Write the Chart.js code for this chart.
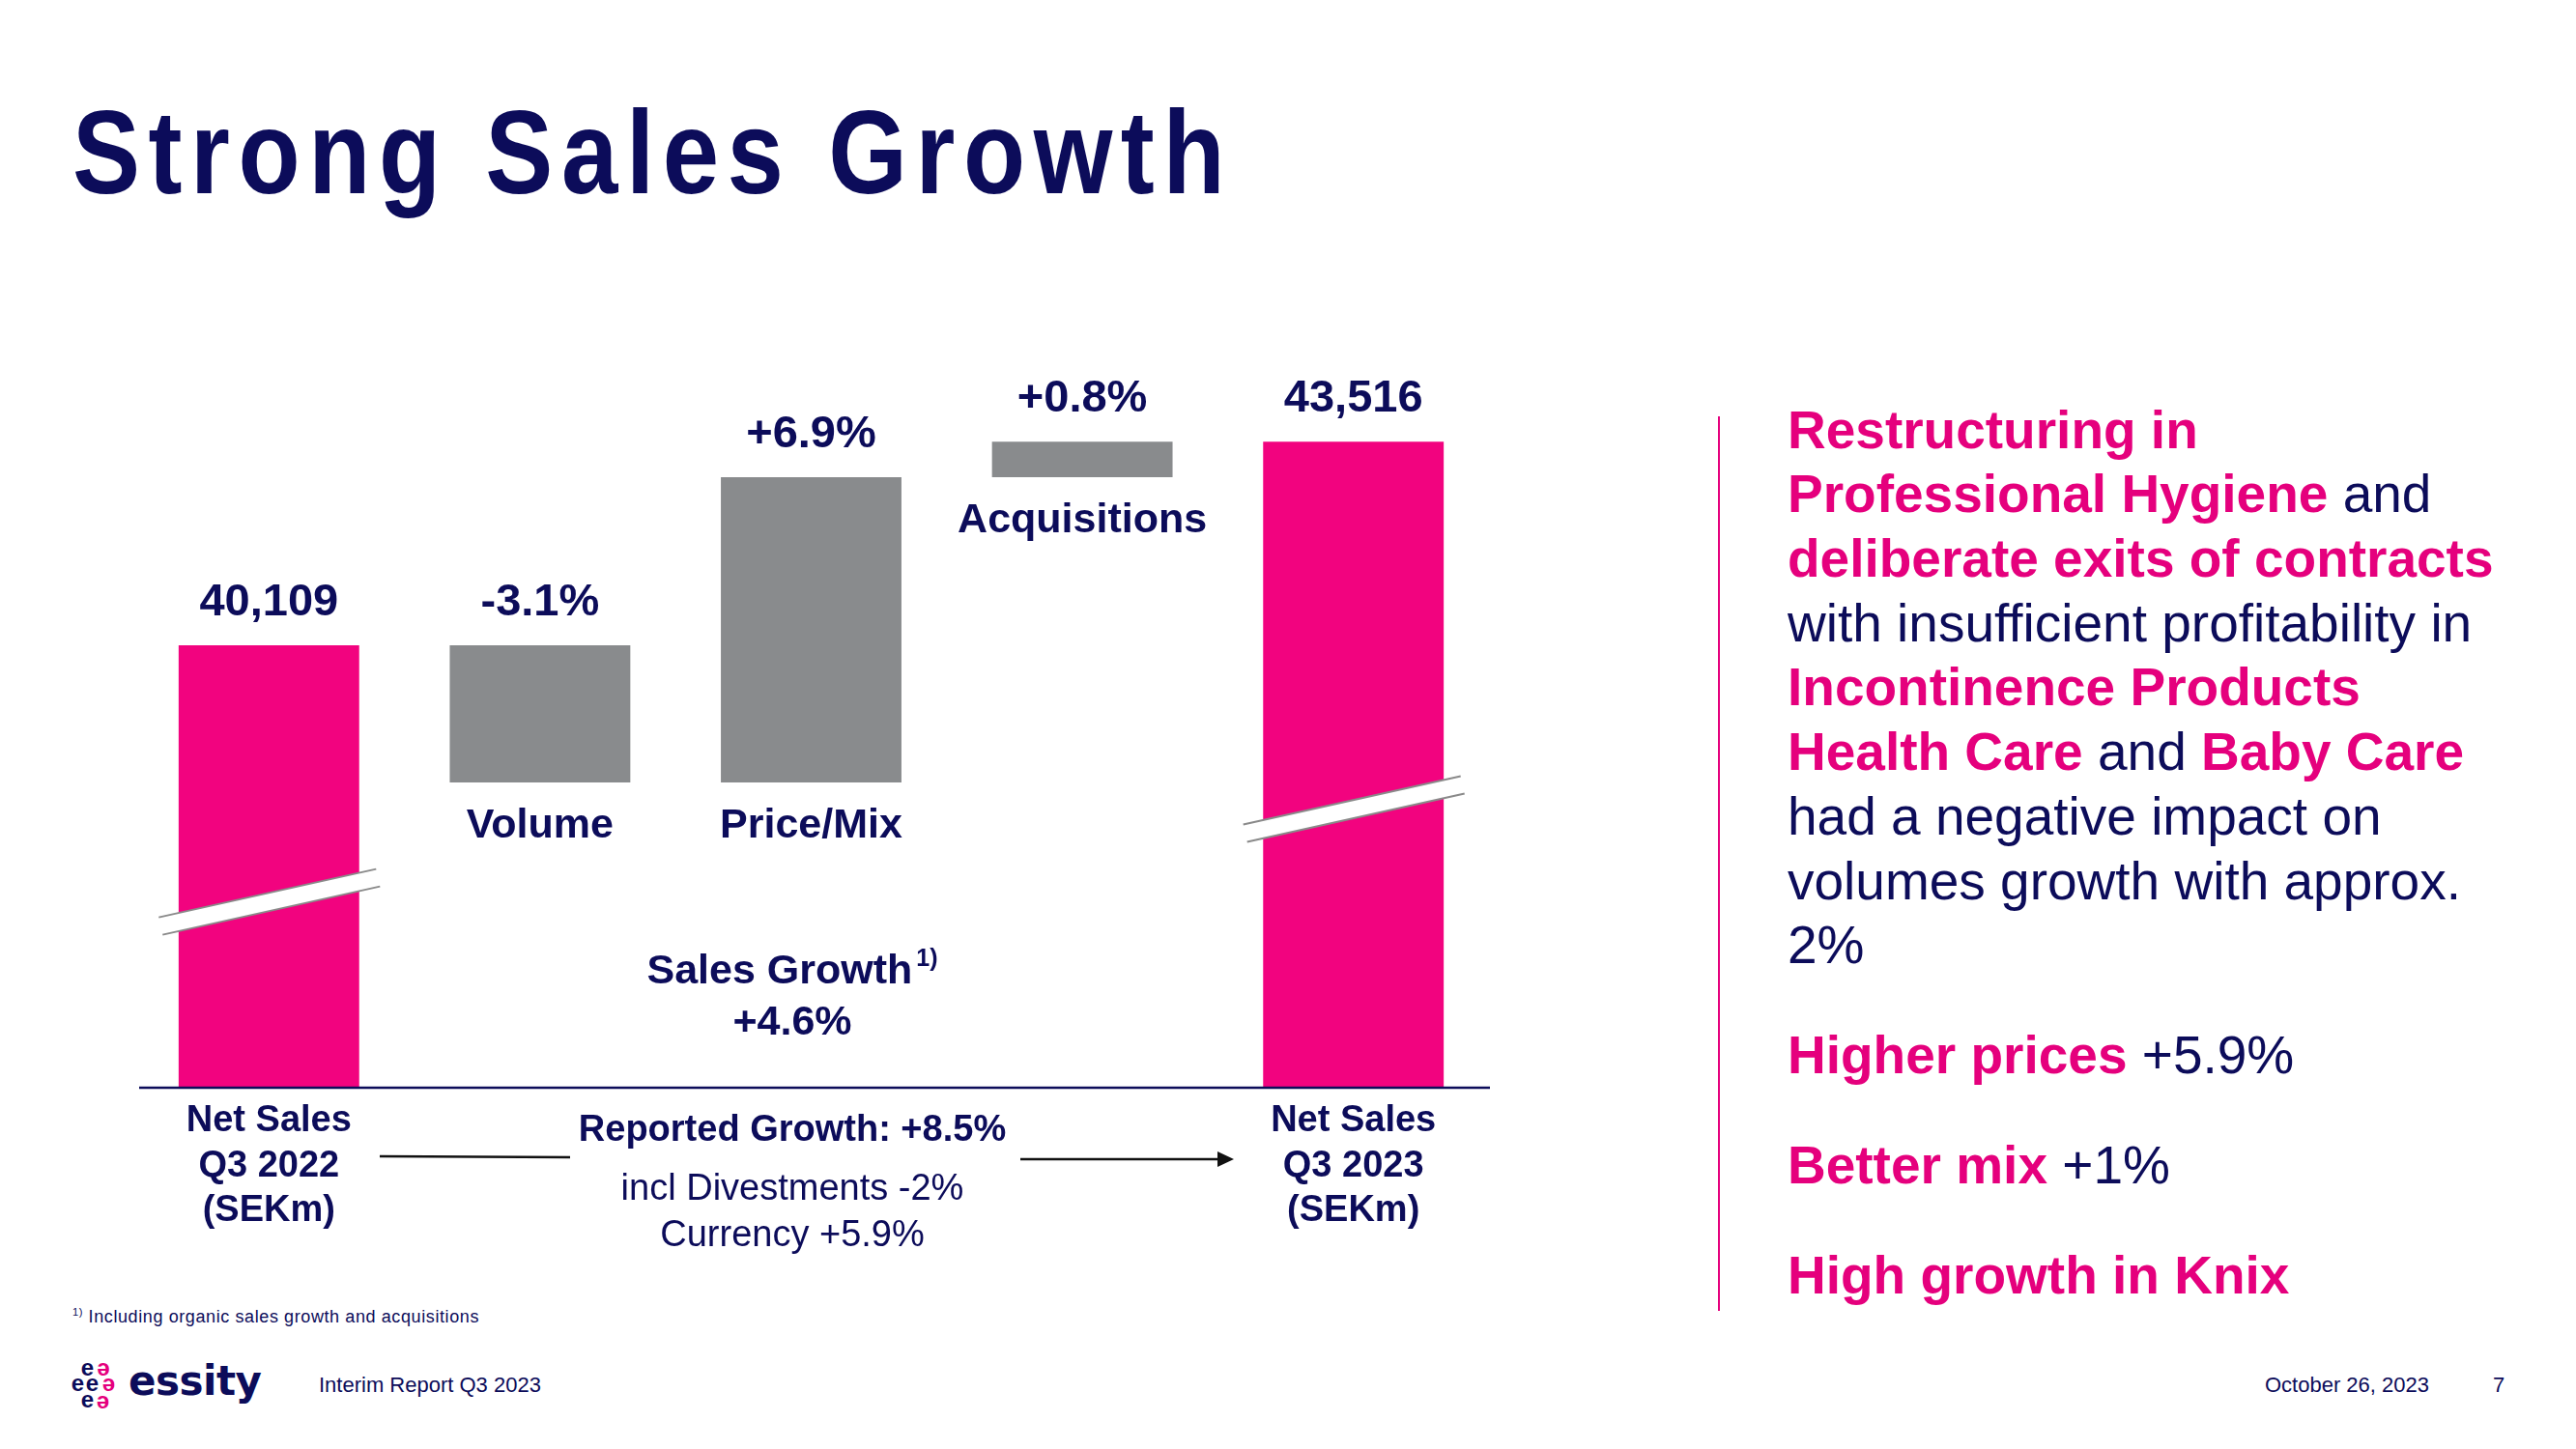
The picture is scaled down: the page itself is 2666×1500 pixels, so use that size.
<!DOCTYPE html>
<html>
<head>
<meta charset="utf-8">
<script src="https://cdn.jsdelivr.net/npm/chart.js@4.4.0/dist/chart.umd.min.js"></script>
<style>
  body { margin: 0; width: 2666px; height: 1500px; background: #fff; overflow: hidden; position: relative; }
  .t { position: absolute; white-space: nowrap; line-height: 0; font-family: "Liberation Sans", Arial, sans-serif; color: #0c0c5a; }
  .para { position: absolute; white-space: nowrap; font-family: "Liberation Sans", Arial, sans-serif; color: #0c0c5a; font-size: 55px; line-height: 66.7px; }
  .p { color: #e5007d; font-weight: bold; }
  #chart { position: absolute; left: 0; top: 0; }
</style>
</head>
<body>
<div class="t" style="left:75px; top:158px; font-size:122px; font-weight:bold; letter-spacing:10px; transform:scaleX(0.86); transform-origin:0 0;">Strong Sales Growth</div>

<canvas id="chart" width="1600" height="1340"></canvas>

<div style="position:absolute; left:1778px; top:431px; width:2px; height:926px; background:#e5007d;"></div>
<div class="para" style="left:1850px; top:411.6px;">
<span class="p">Restructuring in</span><br>
<span class="p">Professional Hygiene</span> and<br>
<span class="p">deliberate exits of contracts</span><br>
with insufficient profitability in<br>
<span class="p">Incontinence Products</span><br>
<span class="p">Health Care</span> and <span class="p">Baby Care</span><br>
had a negative impact on<br>
volumes growth with approx.<br>
2%
</div>
<div class="t" style="left:1850px; top:1092px; font-size:55px;"><span class="p">Higher prices</span> +5.9%</div>
<div class="t" style="left:1850px; top:1206px; font-size:55px;"><span class="p">Better mix</span> +1%</div>
<div class="t" style="left:1850px; top:1320px; font-size:55px;"><span class="p">High growth in Knix</span></div>

<div class="t" style="left:75px; top:1362.8px; font-size:18px; letter-spacing:0.6px;"><span style="font-size:11px; position:relative; top:-7px;">1)</span> Including organic sales growth and acquisitions</div>

<svg style="position:absolute; left:0; top:1390px;" width="140" height="90">
  <g font-family="Liberation Sans, Arial, sans-serif" font-weight="bold" font-size="24" text-anchor="middle">
    <text x="90.5" y="33.7" fill="#0c0c5a">e</text>
    <text x="107" y="33.7" fill="#e5007d" transform="rotate(180 107 27.5)">e</text>
    <text x="80.5" y="49.7" fill="#0c0c5a">e</text>
    <text x="95.5" y="49.7" fill="#0c0c5a">e</text>
    <text x="112.5" y="49.7" fill="#e5007d" transform="rotate(180 112.5 43.5)">e</text>
    <text x="90.5" y="67.2" fill="#0c0c5a">e</text>
    <text x="106.5" y="67.2" fill="#e5007d" transform="rotate(180 106.5 61)">e</text>
  </g>
</svg>
<div class="t" style="left:133px; top:1430px; font-size:42px; font-weight:bold; font-family:'DejaVu Sans', sans-serif; letter-spacing:-0.5px;">essity</div>
<div class="t" style="left:330px; top:1434.4px; font-size:22px;">Interim Report Q3 2023</div>
<div class="t" style="left:2344px; top:1434.4px; font-size:22px;">October 26, 2023</div>
<div class="t" style="left:2580px; top:1434.4px; font-size:22px;">7</div>

<script>
// Bridge: net sales Q3 2022 -> Q3 2023
const categories = [
  ["Net Sales", "Q3 2022", "(SEKm)"],
  ["Volume"],
  ["Price/Mix"],
  ["Acquisitions"],
  ["Net Sales", "Q3 2023", "(SEKm)"],
];
const netSales = [40109, 43516];       // SEKm
const changes = [-3.1, 6.9, 0.8];       // % : volume, price/mix, acquisitions
const salesGrowth = 4.6;                // organic + acquisitions, %
const reportedGrowth = 8.5;             // %
const reportedParts = ["incl Divestments -2%", "Currency +5.9%"];

// bars are drawn on an index (Q3 2022 = 100) with a broken axis
const baseIndex = 100;
const axisMin = 90;
const axisMax = 107;

const pct = (v) => (v > 0 ? "+" : "") + v.toFixed(1) + "%";

let level = baseIndex;
const barData = [[axisMin, baseIndex]];
changes.forEach((c) => {
  const next = +(level + c).toFixed(1);
  barData.push([Math.min(level, next), Math.max(level, next)]);
  level = next;
});
barData.push([axisMin, level]);

const valueLabels = [
  netSales[0].toLocaleString("en-US"),
  ...changes.map(pct),
  netSales[1].toLocaleString("en-US"),
];

const PINK = "#f2037f";
const GREY = "#898b8d";
const NAVY = "#0c0c5a";
const FONT = "'Liberation Sans', Arial, sans-serif";

const bridgeLabels = {
  id: "bridgeLabels",
  afterDatasetsDraw(chart) {
    const { ctx, chartArea, scales } = chart;
    const bars = chart.getDatasetMeta(0).data;
    const axisY = chartArea.bottom;
    ctx.save();

    // axis break marks on the two net sales bars
    [[0, 94.2], [4, 96.3]].forEach(([i, v]) => {
      const cx = bars[i].x;
      const cy = scales.y.getPixelForValue(v);
      const up = [[cx - 114, cy + 16], [cx + 111, cy - 34]];
      const lo = [[cx - 110, cy + 34], [cx + 115, cy - 16]];
      ctx.fillStyle = "#fff";
      ctx.beginPath();
      ctx.moveTo(...up[0]);
      ctx.lineTo(...up[1]);
      ctx.lineTo(...lo[1]);
      ctx.lineTo(...lo[0]);
      ctx.closePath();
      ctx.fill();
      ctx.strokeStyle = "#8a8a8a";
      ctx.lineWidth = 2;
      [up, lo].forEach((l) => {
        ctx.beginPath();
        ctx.moveTo(...l[0]);
        ctx.lineTo(...l[1]);
        ctx.stroke();
      });
    });

    // base line
    ctx.strokeStyle = NAVY;
    ctx.lineWidth = 2.5;
    ctx.beginPath();
    ctx.moveTo(144, axisY);
    ctx.lineTo(chartArea.right + 1, axisY);
    ctx.stroke();

    ctx.fillStyle = NAVY;
    ctx.textAlign = "center";
    ctx.textBaseline = "middle";

    bars.forEach((bar, i) => {
      const top = Math.min(bar.y, bar.base);
      const bottom = Math.max(bar.y, bar.base);
      ctx.font = "bold 47px " + FONT;
      ctx.fillText(valueLabels[i], bar.x, top - 44);

      const lines = categories[i];
      if (lines.length > 1) {
        ctx.font = "bold 38px " + FONT;
        lines.forEach((s, k) => ctx.fillText(s, bar.x, axisY + 35 + k * 46.5));
      } else {
        ctx.font = "bold 43px " + FONT;
        ctx.fillText(lines[0], bar.x, bottom + 45);
      }
    });

    // sales growth note
    const mid = 820;
    ctx.font = "bold 43px " + FONT;
    const sg = "Sales Growth";
    const w1 = ctx.measureText(sg).width;
    ctx.font = "bold 25px " + FONT;
    const w2 = ctx.measureText("1)").width + 4;
    const x0 = mid - (w1 + w2) / 2;
    ctx.textAlign = "left";
    ctx.font = "bold 43px " + FONT;
    ctx.fillText(sg, x0, 1006);
    ctx.font = "bold 25px " + FONT;
    ctx.fillText("1)", x0 + w1 + 4, 993);
    ctx.textAlign = "center";
    ctx.font = "bold 43px " + FONT;
    ctx.fillText(pct(salesGrowth), mid, 1059);

    // reported growth
    ctx.font = "bold 38px " + FONT;
    ctx.fillText("Reported Growth: " + pct(reportedGrowth), mid, 1171);
    ctx.font = "38px " + FONT;
    reportedParts.forEach((s, k) => ctx.fillText(s, mid, 1232 + k * 48));

    // arrow from Q3 2022 to Q3 2023
    ctx.strokeStyle = "#111";
    ctx.fillStyle = "#111";
    ctx.lineWidth = 2.5;
    ctx.beginPath();
    ctx.moveTo(393, 1197);
    ctx.lineTo(590, 1198);
    ctx.moveTo(1056, 1200);
    ctx.lineTo(1262, 1200);
    ctx.stroke();
    ctx.beginPath();
    ctx.moveTo(1277, 1200);
    ctx.lineTo(1260, 1192);
    ctx.lineTo(1260, 1208);
    ctx.closePath();
    ctx.fill();

    ctx.restore();
  },
};

new Chart(document.getElementById("chart"), {
  type: "bar",
  data: {
    labels: categories,
    datasets: [
      {
        data: barData,
        backgroundColor: [PINK, GREY, GREY, GREY, PINK],
        barPercentage: 0.666,
        categoryPercentage: 1,
      },
    ],
  },
  options: {
    responsive: false,
    animation: false,
    devicePixelRatio: 1,
    layout: { padding: { left: 138, right: 59, top: 347.4, bottom: 214 } },
    scales: {
      x: { display: false },
      y: { display: false, min: axisMin, max: axisMax },
    },
    plugins: {
      legend: { display: false },
      tooltip: { enabled: false },
    },
  },
  plugins: [bridgeLabels],
});
</script>
</body>
</html>
